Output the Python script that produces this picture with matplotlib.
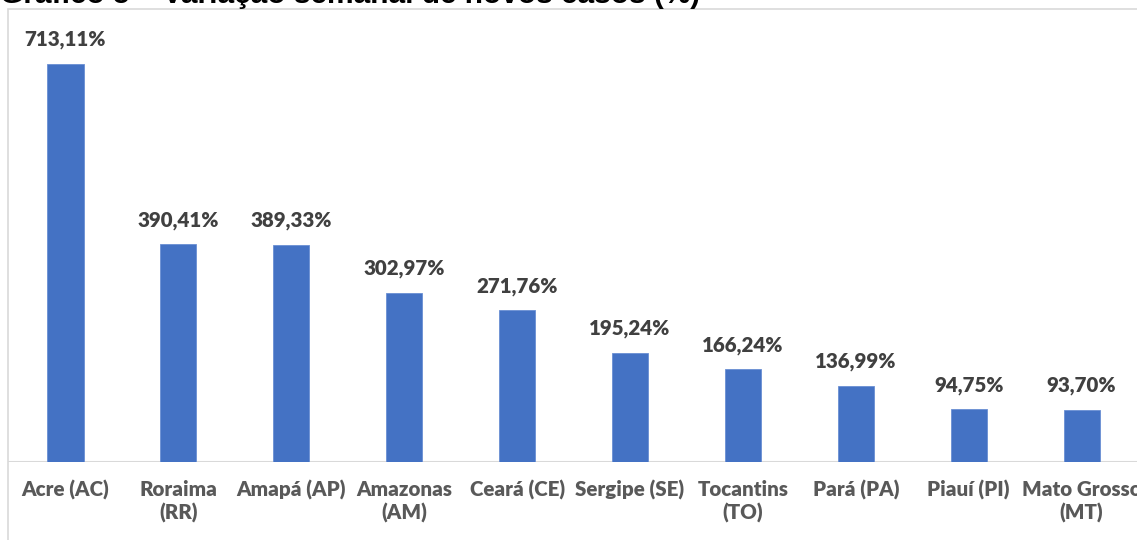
import matplotlib
matplotlib.use("Agg")
import matplotlib.pyplot as plt
from matplotlib.patches import Rectangle

# === DATA ===
STATES = ["Acre (AC)", "Roraima\n(RR)", "Amapá (AP)", "Amazonas\n(AM)", "Ceará (CE)",
          "Sergipe (SE)", "Tocantins\n(TO)", "Pará (PA)", "Piauí (PI)", "Mato Grosso\n(MT)"]
VARIATION = [713.11, 390.41, 389.33, 302.97, 271.76, 195.24, 166.24, 136.99, 94.75, 93.70]
TITLE = "Gráfico 5 – Variação semanal de novos casos (%)"

BAR_COLOR = "#4472C4"
GRID_GRAY = "#D9D9D9"
W, H = 1137, 540
LABEL_FONT = dict(fontsize=14.8, fontweight=800, family="Lato")

fig = plt.figure(figsize=(W / 100, H / 100), dpi=100)

# chart-area border (cropped at right/bottom in the original)
fig.patches.append(Rectangle((8 / W, -0.1), 1.2, 1.1 - 9 / H, transform=fig.transFigure,
                             fill=False, edgecolor=GRID_GRAY, linewidth=1.2))

ax = fig.add_axes([8 / W, 1 - 462 / H, 1 - 8 / W, (462 - 9) / H])
x = list(range(len(STATES)))
ax.bar(x, VARIATION, width=0.32, color=BAR_COLOR, edgecolor="#6A8FD3", linewidth=0.6, zorder=3)
ax.axhline(0, color=GRID_GRAY, linewidth=1.5, zorder=2)
ax.set_xlim(-0.509, 9.491)
ax.set_ylim(0, 811.7)

for xi, v in zip(x, VARIATION):
    ax.annotate(f"{v:.2f}%".replace(".", ","), (xi, v), xytext=(0, 13), textcoords="offset points",
                ha="center", va="baseline", color="#404040", **LABEL_FONT)

ax.set_xticks(x)
ax.set_xticklabels(STATES, color="#595959", linespacing=1.25, **LABEL_FONT)
ax.tick_params(axis="x", length=0, pad=13)
ax.set_yticks([])
for s in ax.spines.values():
    s.set_visible(False)

fig.text(0.0, 1 - 3 / H, TITLE, ha="left", va="baseline", fontsize=21.5,
         fontweight="bold", family="Liberation Sans", color="#000000")

fig.savefig("out.png", dpi=100)
